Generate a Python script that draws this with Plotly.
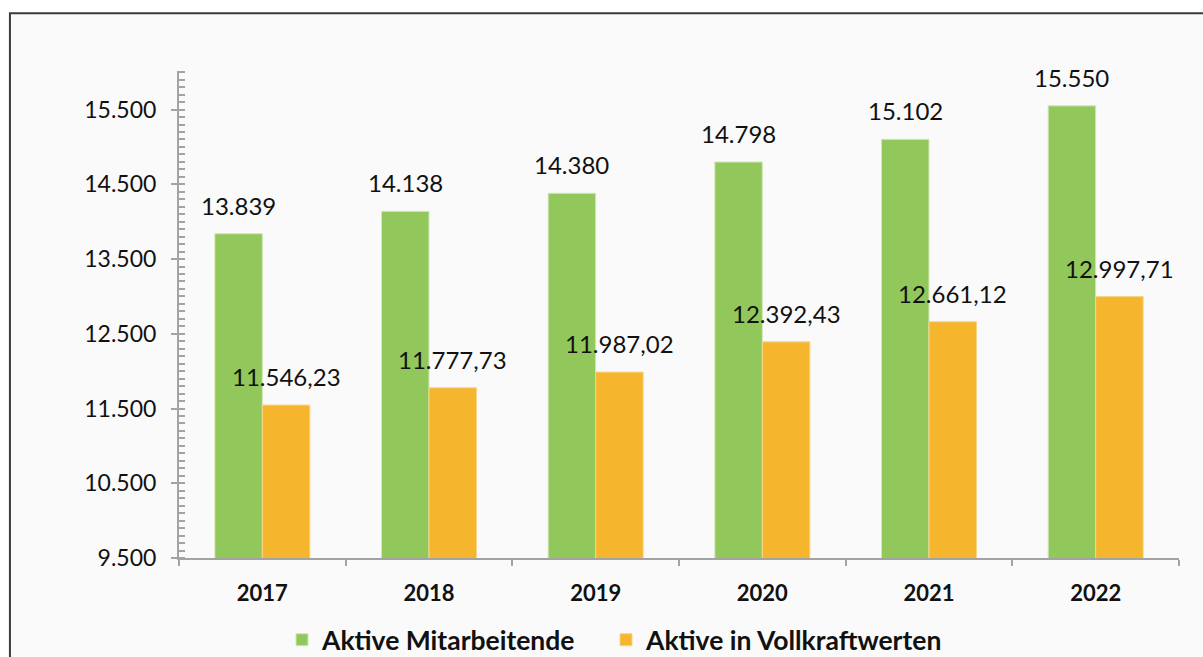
import plotly.graph_objects as go

# Jahre und Kennzahlen
years = ["2017", "2018", "2019", "2020", "2021", "2022"]
aktive_mitarbeitende = [13839, 14138, 14380, 14798, 15102, 15550]
aktive_vollkraft = [11546.23, 11777.73, 11987.02, 12392.43, 12661.12, 12997.71]

series_names = ["Aktive Mitarbeitende", "Aktive in Vollkraftwerten"]
y_ticks = [9500, 10500, 11500, 12500, 13500, 14500, 15500]

GREEN = "#92C75B"
ORANGE = "#F5B62E"
FONT = "Lato"
TEXT = "#111111"
BARGAP = 0.43


def de_int(v):
    return f"{v:,.0f}".replace(",", ".")


def de_dec(v):
    return f"{v:,.2f}".replace(",", "X").replace(".", ",").replace("X", ".")


fig = go.Figure()
fig.add_trace(go.Bar(
    x=years, y=aktive_mitarbeitende, name=series_names[0], legend="legend",
    marker=dict(color=GREEN, line=dict(color="#d2e8ba", width=1)),
))
fig.add_trace(go.Bar(
    x=years, y=aktive_vollkraft, name=series_names[1], legend="legend2",
    marker=dict(color=ORANGE, line=dict(color="#f8d48a", width=1)),
))

# Wertbeschriftungen über den Balken (Mitte jedes Balkens der Gruppe)
half = (1 - BARGAP) / 4
label_font = dict(family=FONT, size=24, color=TEXT)
annotations = []
for i, (g, o) in enumerate(zip(aktive_mitarbeitende, aktive_vollkraft)):
    annotations.append(dict(x=i - half, y=g, text=de_int(g), xref="x", yref="y",
                            showarrow=False, yanchor="bottom", yshift=12,
                            font=label_font))
    annotations.append(dict(x=i + half, y=o, text=de_dec(o), xref="x", yref="y",
                            showarrow=False, yanchor="bottom", yshift=12,
                            font=label_font))

W, H = 1203, 657
L, R, T, B = 179, 24.4, 70.7, 99.3
pw, ph = W - L - R, H - T - B


def px_x(p):
    return (p - L) / pw


def px_y(p):
    return (H - B - p) / ph


legend_style = dict(orientation="h", xref="container", yref="container",
                    xanchor="left", y=(H - 640) / H, yanchor="middle",
                    font=dict(family=FONT, size=26.5, color=TEXT, weight="bold"),
                    bgcolor="rgba(0,0,0,0)")

fig.update_layout(
    width=W, height=H, autosize=False,
    margin=dict(l=L, r=R, t=T, b=B, pad=0, autoexpand=False),
    paper_bgcolor="white",
    plot_bgcolor="#fafafa",
    separators=",.",
    barmode="group",
    bargap=BARGAP,
    bargroupgap=0,
    font=dict(family=FONT, color=TEXT),
    annotations=annotations,
    shapes=[dict(type="rect", xref="paper", yref="paper", layer="below",
                 x0=px_x(10), x1=px_x(1220), y0=px_y(680), y1=px_y(13),
                 fillcolor="#fafafa", line=dict(color="#3a3a3a", width=2))],
    showlegend=True,
    legend=dict(x=282 / W, **legend_style),
    legend2=dict(x=606 / W, **legend_style),
)

fig.update_xaxes(
    type="category",
    showline=True, linecolor="#a3a3a3", linewidth=2,
    ticks="outside", tickson="boundaries", ticklen=6, tickwidth=2, tickcolor="#a3a3a3",
    tickfont=dict(family=FONT, size=22, color=TEXT, weight="bold"),
    ticklabelstandoff=15,
    showgrid=False, zeroline=False,
)

fig.update_yaxes(
    range=[9500, 16016],
    tickmode="array", tickvals=y_ticks, tickformat=",d",
    showline=True, linecolor="#a3a3a3", linewidth=2,
    ticks="outside", ticklen=6, tickwidth=2, tickcolor="#a3a3a3",
    minor=dict(dtick=100, tick0=9500, ticks="inside", ticklen=6, tickwidth=2,
               tickcolor="#a3a3a3", showgrid=False),
    tickfont=dict(family=FONT, size=23, color=TEXT),
    ticklabelstandoff=10,
    showgrid=False, zeroline=False,
)

fig.write_html("out.html")
